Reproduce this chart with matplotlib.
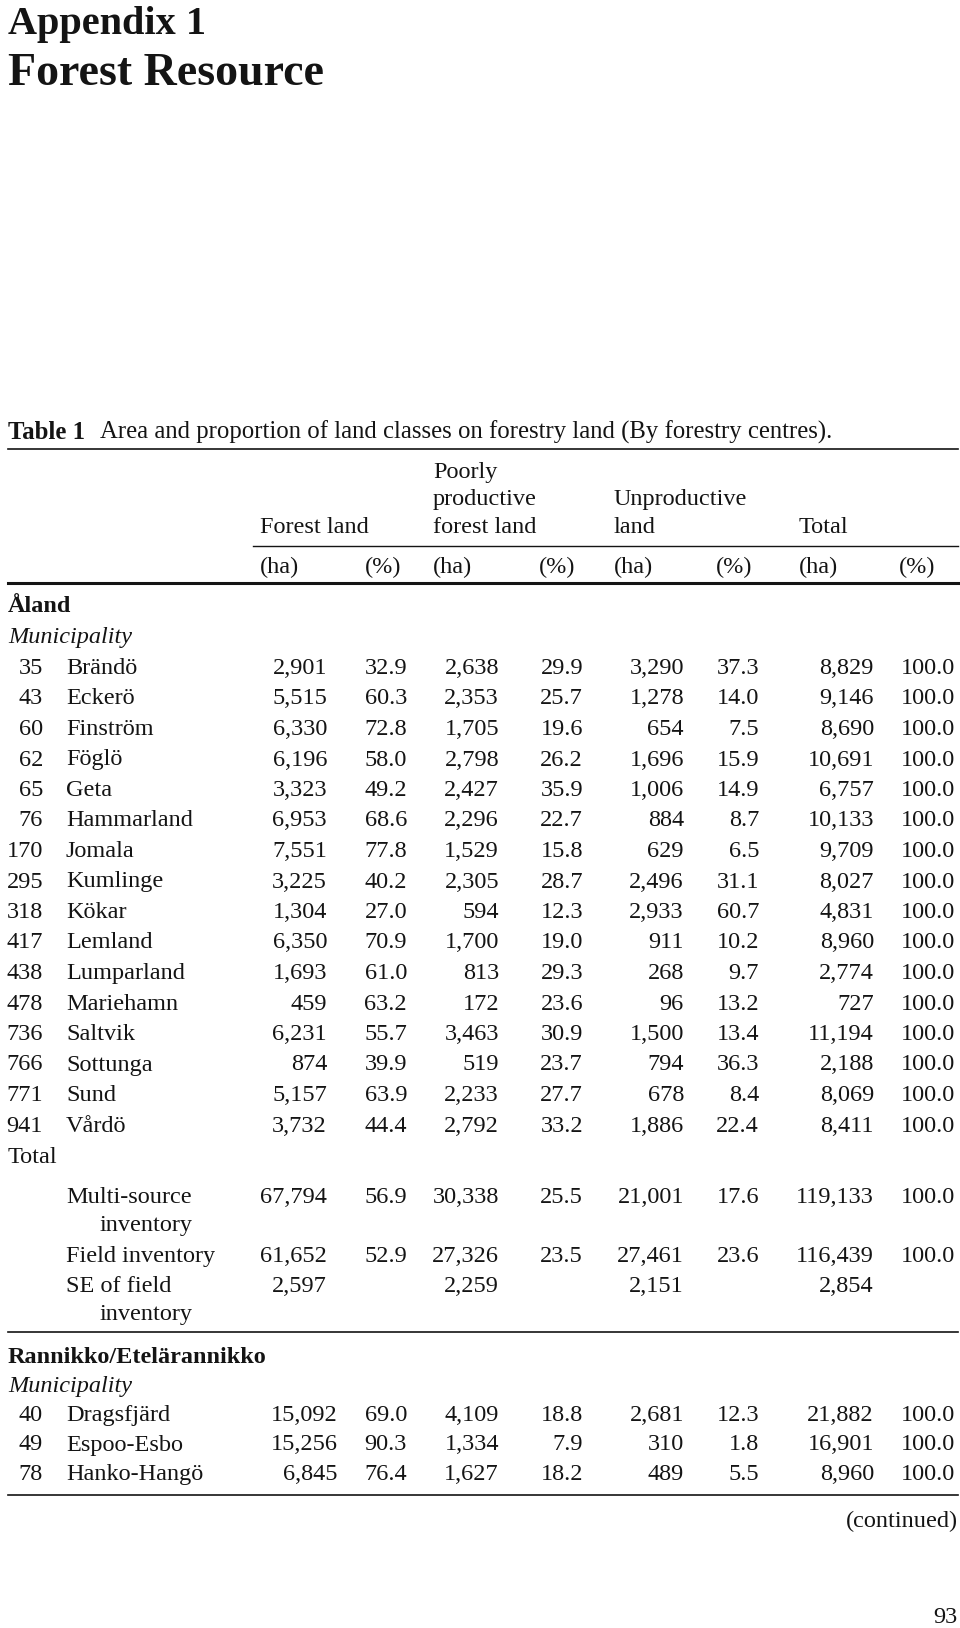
import matplotlib.pyplot as plt

# --- data ---
aland_ids = [35, 43, 60, 62, 65, 76, 170, 295, 318, 417, 438, 478, 736, 766, 771, 941]
aland_names = ["Brändö", "Eckerö", "Finström", "Föglö", "Geta", "Hammarland", "Jomala",
               "Kumlinge", "Kökar", "Lemland", "Lumparland", "Mariehamn", "Saltvik",
               "Sottunga", "Sund", "Vårdö"]
forest_ha = [2901, 5515, 6330, 6196, 3323, 6953, 7551, 3225, 1304, 6350, 1693, 459, 6231, 874, 5157, 3732]
forest_pct = [32.9, 60.3, 72.8, 58.0, 49.2, 68.6, 77.8, 40.2, 27.0, 70.9, 61.0, 63.2, 55.7, 39.9, 63.9, 44.4]
poor_ha = [2638, 2353, 1705, 2798, 2427, 2296, 1529, 2305, 594, 1700, 813, 172, 3463, 519, 2233, 2792]
poor_pct = [29.9, 25.7, 19.6, 26.2, 35.9, 22.7, 15.8, 28.7, 12.3, 19.0, 29.3, 23.6, 30.9, 23.7, 27.7, 33.2]
unprod_ha = [3290, 1278, 654, 1696, 1006, 884, 629, 2496, 2933, 911, 268, 96, 1500, 794, 678, 1886]
unprod_pct = [37.3, 14.0, 7.5, 15.9, 14.9, 8.7, 6.5, 31.1, 60.7, 10.2, 9.7, 13.2, 13.4, 36.3, 8.4, 22.4]
total_ha = [8829, 9146, 8690, 10691, 6757, 10133, 9709, 8027, 4831, 8960, 2774, 727, 11194, 2188, 8069, 8411]
total_pct = [100.0] * 16

total_labels = [("Multi-source", "inventory"), ("Field inventory", None), ("SE of field", "inventory")]
total_vals = [
    [67794, 56.9, 30338, 25.5, 21001, 17.6, 119133, 100.0],
    [61652, 52.9, 27326, 23.5, 27461, 23.6, 116439, 100.0],
    [2597, None, 2259, None, 2151, None, 2854, None],
]

rann_ids = [40, 49, 78]
rann_names = ["Dragsfjärd", "Espoo-Esbo", "Hanko-Hangö"]
rann_vals = [
    [15092, 69.0, 4109, 18.8, 2681, 12.3, 21882, 100.0],
    [15256, 90.3, 1334, 7.9, 310, 1.8, 16901, 100.0],
    [6845, 76.4, 1627, 18.2, 489, 5.5, 8960, 100.0],
]

# --- layout ---
FONT = "Liberation Serif"
FS = 17.5
INK = "#141414"
col_right = [327, 407, 499, 583, 684, 759, 874, 955]
row_step = 30.5

fig = plt.figure(figsize=(9.6, 16.28), dpi=100)
ax = fig.add_axes([0, 0, 1, 1])
ax.set_xlim(0, 960)
ax.set_ylim(1628, 0)
ax.axis("off")


def txt(x, y, s, ha="left", **kw):
    kw.setdefault("fontsize", FS)
    ax.text(x, y, s, ha=ha, va="baseline", family=FONT, color=INK, **kw)


def fmt(v, i):
    if v is None:
        return ""
    return f"{v:,}" if i % 2 == 0 else f"{v:.1f}"


def data_row(y, vals, first_right=None):
    for i, v in enumerate(vals):
        x = col_right[i]
        if i == 0 and first_right is not None:
            x = first_right
        txt(x, y, fmt(v, i), ha="right")


# title
txt(8, 34, "Appendix 1", fontsize=29, weight="bold")
txt(8, 85, "Forest Resource", fontsize=33, weight="bold")

# caption
txt(8, 439, "Table 1", weight="bold", fontsize=17.8)
txt(100, 439, "Area and proportion of land classes on forestry land (By forestry centres).", fontsize=17.8)
ax.plot([8, 958], [448.5, 448.5], color=INK, lw=1.2)

# header
txt(433, 478, "Poorly")
txt(433, 505, "productive")
txt(614, 505, "Unproductive")
txt(260, 533, "Forest land")
txt(433, 533, "forest land")
txt(614, 533, "land")
txt(799, 533, "Total")
ax.plot([253, 958], [546, 546], color=INK, lw=1.0)
for xl, xr in [(260, 401), (433, 575), (614, 752), (799, 935)]:
    txt(xl, 573, "(ha)")
    txt(xr, 573, "(%)", ha="right")
ax.plot([8, 958], [583, 583], color=INK, lw=2.2)

# Åland section
txt(8, 612, "Åland", weight="bold")
txt(8, 643, "Municipality", style="italic")
y0 = 674
for k in range(len(aland_ids)):
    y = y0 + k * row_step
    txt(43, y, str(aland_ids[k]), ha="right")
    txt(66, y, aland_names[k])
    data_row(y, [forest_ha[k], forest_pct[k], poor_ha[k], poor_pct[k],
                 unprod_ha[k], unprod_pct[k], total_ha[k], total_pct[k]])

txt(8, 1163, "Total")
y_tot = [1203, 1262, 1292]
for (lab1, lab2), vals, y in zip(total_labels, total_vals, y_tot):
    txt(66, y, lab1)
    if lab2:
        txt(100, y + 28, lab2)
    data_row(y, vals)
ax.plot([8, 958], [1332, 1332], color=INK, lw=1.2)

# Rannikko section
txt(8, 1363, "Rannikko/Etelärannikko", weight="bold")
txt(8, 1392, "Municipality", style="italic")
for k in range(len(rann_ids)):
    y = 1421 + k * 29.5
    txt(43, y, str(rann_ids[k]), ha="right")
    txt(66, y, rann_names[k])
    data_row(y, rann_vals[k], first_right=338)
ax.plot([8, 958], [1495, 1495], color=INK, lw=1.2)

txt(958, 1527, "(continued)", ha="right")
txt(958, 1623, "93", ha="right")

fig.savefig("out.png", dpi=100, facecolor="white")
